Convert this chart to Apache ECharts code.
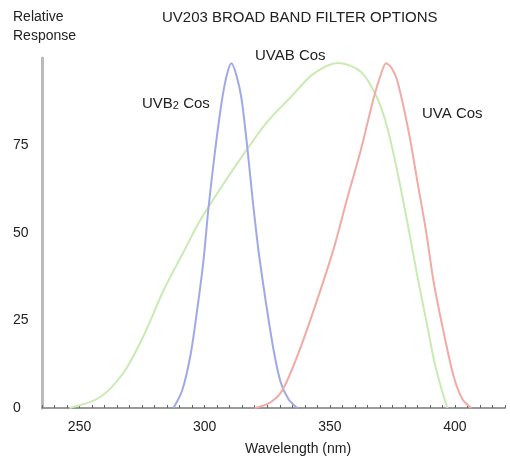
<!DOCTYPE html>
<html>
<head>
<meta charset="utf-8">
<script src="https://cdn.jsdelivr.net/npm/echarts@6/dist/echarts.min.js"></script>
<style>html,body{margin:0;padding:0;background:#fff}#c{width:510px;height:456px}</style>
</head>
<body>
<div id="c"></div>
<script>
// Wavelength (nm) / relative response pairs
var uvb2Wave = [287.5, 291, 294.3, 297, 299.5, 301.5, 303.9, 306.7, 308.8, 310.7, 312.7, 314.7, 317.1, 319.1, 321.5, 324.3, 327.5, 330.3, 333.5, 337];
var uvb2Resp = [0, 5, 15, 28, 42, 57, 72, 87, 95, 98.5, 95, 88.5, 74, 60, 45, 31, 16.7, 7.5, 2.5, 0];

var uvabWave = [246, 258, 267.5, 275.5, 283.5, 291.5, 298.1, 306.1, 316.1, 324.9, 334.1, 343.3, 353.3, 362.5, 369, 373, 377, 381, 385, 389, 391.6, 394.4, 397];
var uvabResp = [0, 3, 10, 20.5, 33.5, 44.5, 53.5, 62.5, 73.1, 81.7, 88.6, 95.4, 98.6, 96, 88.5, 80, 67.5, 53, 37.6, 23.3, 13.8, 6, 0];

var uvaWave = [320, 326, 331, 338, 345, 351.5, 357, 362.5, 367.5, 370.5, 372.5, 374.8, 377, 381.5, 385, 388.5, 391.5, 395.5, 399.5, 403, 406.5];
var uvaResp = [0, 1.5, 5, 16.7, 31, 45.4, 60, 74, 88.5, 95.5, 98.5, 97, 93.4, 79, 64.7, 50.3, 36, 21.6, 9, 2.5, 0];

var xLabels = [250, 300, 350, 400];
var yLabels = [0, 25, 50, 75];

function pairs(xs, ys) { return xs.map(function (x, i) { return [x, ys[i]]; }); }

var FONT = '"Liberation Sans", Arial, sans-serif';
var chart = echarts.init(document.getElementById('c'), null, { renderer: 'canvas' });
chart.setOption({
  backgroundColor: '#ffffff',
  animation: false,
  grid: { left: 42, right: 5, top: 58, bottom: 48 },
  xAxis: {
    type: 'value', min: 235, max: 420, interval: 5,
    axisLine: { lineStyle: { color: '#999999', width: 2 } },
    axisTick: { show: true, inside: true, length: 3, lineStyle: { color: '#666666', width: 1 } },
    splitLine: { show: false },
    axisLabel: {
      margin: 12, color: '#222', fontSize: 14, fontFamily: FONT,
      formatter: function (v) { return xLabels.indexOf(v) >= 0 ? String(v) : ''; }
    }
  },
  yAxis: {
    type: 'value', min: 0, max: 100, interval: 25,
    axisLine: { show: true, lineStyle: { color: '#bbbbbb', width: 3 } },
    axisTick: { show: false },
    splitLine: { show: false },
    axisLabel: {
      align: 'left', margin: 29, color: '#222', fontSize: 14, fontFamily: FONT,
      formatter: function (v) { return yLabels.indexOf(v) >= 0 ? String(v) : ''; }
    }
  },
  series: [
    { type: 'line', name: 'UVAB Cos', data: pairs(uvabWave, uvabResp), smooth: 0.3, showSymbol: false,
      lineStyle: { color: '#c9ebb3', width: 2 } },
    { type: 'line', name: 'UVB2 Cos', data: pairs(uvb2Wave, uvb2Resp), smooth: 0.3, showSymbol: false,
      lineStyle: { color: '#9fa9e6', width: 2 } },
    { type: 'line', name: 'UVA Cos', data: pairs(uvaWave, uvaResp), smooth: 0.3, showSymbol: false,
      lineStyle: { color: '#f2aaa4', width: 2 } }
  ],
  graphic: [
    { type: 'text', left: 13, top: 10, style: { text: 'Relative', font: '14px ' + FONT, fill: '#222' } },
    { type: 'text', left: 13, top: 29, style: { text: 'Response', font: '14px ' + FONT, fill: '#222' } },
    { type: 'text', left: 162, top: 10, style: { text: 'UV203 BROAD BAND FILTER OPTIONS', font: '15px ' + FONT, fill: '#222' } },
    { type: 'text', left: 255, top: 48, style: { text: 'UVAB Cos', font: '15px ' + FONT, fill: '#222' } },
    { type: 'text', left: 142, top: 96, style: {
        text: '{a|UVB}{s|2}{a| Cos}', fill: '#222',
        rich: { a: { fontSize: 15, fontFamily: FONT, color: '#222' },
                s: { fontSize: 11, fontFamily: FONT, color: '#222', verticalAlign: 'bottom', padding: [4, 0, 0, 0] } } } },
    { type: 'text', left: 422, top: 106, style: { text: 'UVA Cos', font: '15px ' + FONT, fill: '#222' } },
    { type: 'text', left: 245, top: 442, style: { text: 'Wavelength (nm)', font: '14px ' + FONT, fill: '#222' } }
  ]
});
</script>
</body>
</html>
